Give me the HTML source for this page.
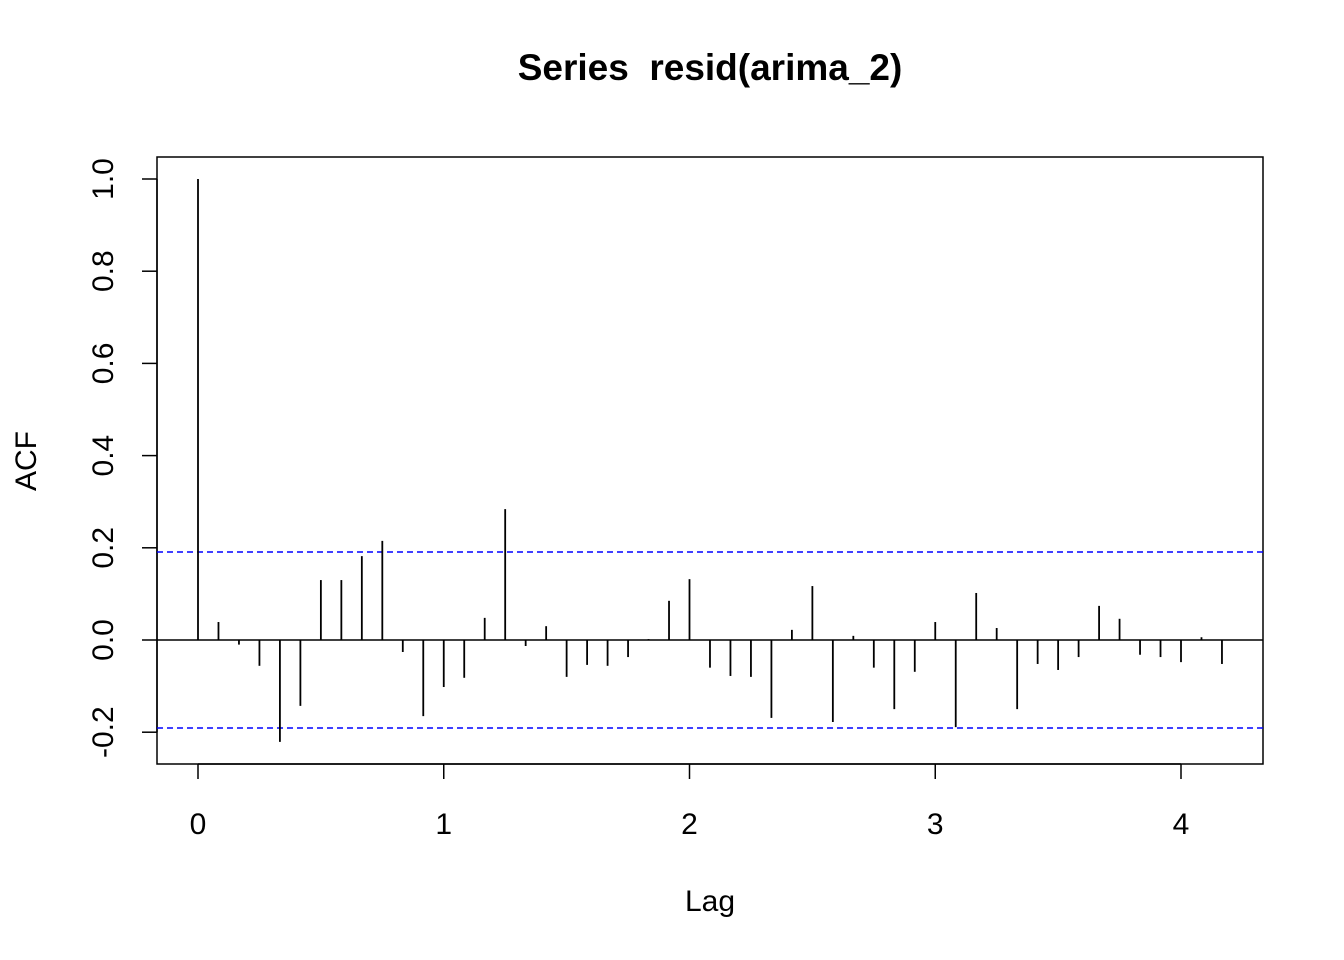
<!DOCTYPE html>
<html><head><meta charset="utf-8"><style>
body{margin:0;background:#fff}
svg{display:block;font-family:"Liberation Sans",Arial,sans-serif}
</style></head><body>
<svg id="chart" width="1344" height="960" viewBox="0 0 1344 960">
<rect width="1344" height="960" fill="#fff"/>
<text x="710" y="80" text-anchor="middle" font-size="37" font-weight="bold" xml:space="preserve">Series &#160;resid(arima_2)</text>
<rect x="157" y="157" width="1106" height="607" fill="none" stroke="#000" stroke-width="1.5"/>
<text x="710" y="911" text-anchor="middle" font-size="30">Lag</text>
<text transform="translate(36,461) rotate(-90)" text-anchor="middle" font-size="30">ACF</text>
<g id="axes"></g>
<g id="marks"></g>
</svg>
<script>
const acfValues=[1.0,0.039,-0.01,-0.056,-0.221,-0.143,0.13,0.13,0.182,0.215,-0.026,-0.165,-0.102,-0.082,0.048,0.284,-0.013,0.03,-0.08,-0.054,-0.056,-0.037,0.002,0.085,0.132,-0.06,-0.078,-0.08,-0.169,0.022,0.117,-0.178,0.009,-0.06,-0.15,-0.069,0.039,-0.189,0.102,0.026,-0.15,-0.052,-0.065,-0.037,0.074,0.046,-0.032,-0.037,-0.048,0.006,-0.052];
const lagStep=1/12;
const ciBound=0.191;
const xTicks=[0,1,2,3,4];
const yTicks=[-0.2,0.0,0.2,0.4,0.6,0.8,1.0];
const NS="http://www.w3.org/2000/svg";
const xs=v=>198+v*245.75;
const ys=v=>640-v*461;
const axes=document.getElementById('axes'),marks=document.getElementById('marks');
function mk(tag,attrs,parent){const e=document.createElementNS(NS,tag);for(const k in attrs)e.setAttribute(k,attrs[k]);parent.appendChild(e);return e;}
let ax=mk('line',{x1:xs(xTicks[0]),x2:xs(xTicks[xTicks.length-1]),y1:764,y2:764,stroke:'#000','stroke-width':1.5},axes);


xTicks.forEach(t=>{
  const l=mk('line',{x1:xs(t),x2:xs(t),y1:764,y2:779,stroke:'#000','stroke-width':1.5},axes);
  
  
  const tx=mk('text',{x:xs(t),y:834,'text-anchor':'middle','font-size':30},axes);
  tx.textContent=t;
  
  
});
let ay=mk('line',{x1:157,x2:157,y1:ys(yTicks[0]),y2:ys(yTicks[yTicks.length-1]),stroke:'#000','stroke-width':1.5},axes);


yTicks.forEach(t=>{
  const l=mk('line',{x1:142,x2:157,y1:ys(t),y2:ys(t),stroke:'#000','stroke-width':1.5},axes);
  
  
  const tx=mk('text',{transform:`translate(113,${ys(t)}) rotate(-90)`,'text-anchor':'middle','font-size':30},axes);
  tx.textContent=t.toFixed(1);
  
  
});
let z=mk('line',{x1:157,x2:1263,y1:ys(0),y2:ys(0),stroke:'#000','stroke-width':1.5},marks);


[ciBound,-ciBound].forEach(c=>{
  const l=mk('line',{x1:157,x2:1263,y1:ys(c),y2:ys(c),stroke:'#0000ff','stroke-width':1.5,'stroke-dasharray':'6,4'},marks);
  
  
});
acfValues.forEach((v,i)=>{
  const x=xs(i*lagStep);
  const l=mk('line',{x1:x,x2:x,y1:ys(0),y2:ys(v),stroke:'#000','stroke-width':1.8},marks);
  
  
});
</script>
</body></html>
